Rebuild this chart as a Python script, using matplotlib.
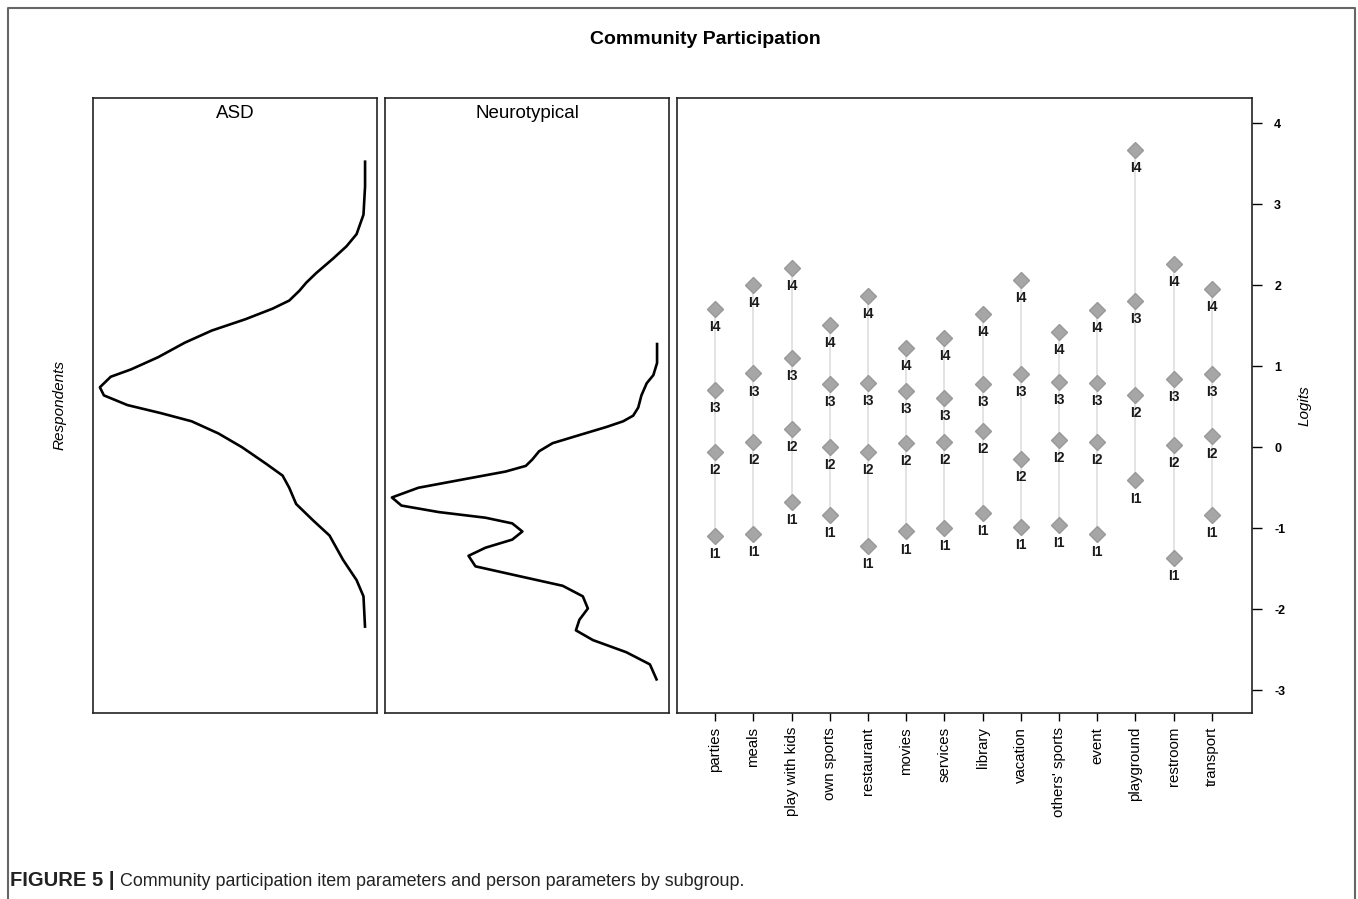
import numpy as np
import matplotlib.pyplot as plt

plt.rcParams['font.family'] = ['Liberation Sans', 'DejaVu Sans']
plt.rcParams['axes.unicode_minus'] = False

# item thresholds (logits)
items = ["parties", "meals", "play with kids", "own sports", "restaurant", "movies",
         "services", "library", "vacation", "others' sports", "event", "playground",
         "restroom", "transport"]
thr1 = [-1.09, -1.07, -0.67, -0.84, -1.22, -1.04, -1.00, -0.81, -0.98, -0.96, -1.07, -0.41, -1.37, -0.84]
thr2 = [-0.06, 0.07, 0.23, 0.00, -0.06, 0.05, 0.07, 0.20, -0.15, 0.09, 0.07, 0.65, 0.03, 0.14]
thr3 = [0.71, 0.91, 1.10, 0.78, 0.79, 0.70, 0.61, 0.78, 0.90, 0.81, 0.79, 1.80, 0.84, 0.90]
thr4 = [1.71, 2.00, 2.21, 1.51, 1.87, 1.23, 1.35, 1.65, 2.06, 1.42, 1.69, 3.67, 2.26, 1.95]
thr_names = ["I1", "I2", "I3", "I4"]

# person parameter densities (relative density, logit)
asd_logit = [3.54, 3.22, 2.87, 2.63, 2.48, 2.33, 2.15, 2.03, 1.93, 1.81, 1.71, 1.58, 1.44, 1.29,
             1.11, 0.96, 0.87, 0.74, 0.64, 0.52, 0.42, 0.32, 0.17, 0.00, -0.20, -0.35, -0.50,
             -0.70, -0.90, -1.09, -1.39, -1.64, -1.84, -2.23]
asd_dens = [0.0, 0.0, 0.006, 0.032, 0.07, 0.12, 0.184, 0.222, 0.248, 0.286, 0.349, 0.451, 0.578,
            0.68, 0.781, 0.883, 0.959, 1.0, 0.985, 0.896, 0.769, 0.654, 0.553, 0.464, 0.375,
            0.311, 0.286, 0.26, 0.197, 0.134, 0.083, 0.032, 0.006, 0.0]
nt_logit = [1.29, 1.04, 0.89, 0.79, 0.64, 0.49, 0.39, 0.32, 0.25, 0.15, 0.05, -0.05, -0.15,
            -0.23, -0.30, -0.40, -0.50, -0.62, -0.72, -0.80, -0.87, -0.94, -1.04, -1.14, -1.24,
            -1.34, -1.47, -1.59, -1.71, -1.84, -1.99, -2.13, -2.26, -2.38, -2.53, -2.68, -2.88]
nt_dens = [0.0, 0.0, 0.014, 0.039, 0.059, 0.071, 0.09, 0.128, 0.191, 0.293, 0.394, 0.445, 0.47,
           0.495, 0.571, 0.736, 0.9, 1.0, 0.964, 0.824, 0.647, 0.546, 0.508, 0.546, 0.647,
           0.711, 0.685, 0.521, 0.356, 0.28, 0.261, 0.293, 0.306, 0.242, 0.116, 0.027, 0.0]

W, H = 1358, 899
fig = plt.figure(figsize=(W / 100, H / 100), dpi=100)

def rect(x0, x1, y0=98, y1=713):
    return [x0 / W, 1 - y1 / H, (x1 - x0) / W, (y1 - y0) / H]

ylim = (-3.28, 4.31)
ax1 = fig.add_axes(rect(93, 377))
ax2 = fig.add_axes(rect(385, 669))
ax3 = fig.add_axes(rect(677, 1252))

for ax, dens, lg, name in [(ax1, asd_dens, asd_logit, "ASD"), (ax2, nt_dens, nt_logit, "Neurotypical")]:
    ax.plot(dens, lg, color='black', lw=1.9, solid_joinstyle='round', solid_capstyle='butt')
    ax.set_xlim(1.026, -0.045)
    ax.set_ylim(*ylim)
    ax.set_xticks([])
    ax.set_yticks([])
    ax.text(0.5, 0.9756, name, transform=ax.transAxes, ha='center', va='center', fontsize=13.5)

# item map
x = np.arange(1, len(items) + 1)
thr = np.array([thr1, thr2, thr3, thr4])
for i in range(len(items)):
    ax3.plot([x[i], x[i]], [thr[:, i].min(), thr[:, i].max()], color='#dedede', lw=1.2, zorder=1)
for k in range(4):
    ax3.plot(x, thr[k], ls='none', marker='D', ms=8.5, color='#a6a6a6', mec='#999999', zorder=2)
    for i in range(len(items)):
        ax3.annotate(thr_names[k], (x[i], thr[k][i]), xytext=(0, -13), textcoords='offset points',
                     ha='center', va='center', fontsize=10, fontweight='bold', color='#1a1a1a')
ax3.set_xlim(0, 15.05)
ax3.set_ylim(*ylim)
ax3.set_xticks(x)
ax3.set_xticklabels(items, rotation=90, fontsize=10.8)
ax3.tick_params(axis='x', length=6, width=1, pad=4)
ax3.yaxis.tick_right()
ax3.set_yticks(range(-3, 5))
ax3.tick_params(axis='y', length=7, width=1, pad=9, labelsize=9)
for lab in ax3.get_yticklabels():
    lab.set_fontweight('bold')
ax3.yaxis.set_label_position('right')
ax3.set_ylabel('Logits', fontstyle='italic', fontsize=11)
ax3.yaxis.set_label_coords(1.08, 0.5)

for ax in (ax1, ax2, ax3):
    for s in ax.spines.values():
        s.set_linewidth(1.2)
        s.set_color('#222222')

fig.text(705 / W, 1 - 39 / H, 'Community Participation', ha='center', va='center',
         fontsize=14, fontweight='bold')
fig.text(60 / W, 1 - 405 / H, 'Respondents', rotation=90, ha='center', va='center',
         fontstyle='italic', fontsize=11)

# caption
t1 = fig.text(10 / W, 1 - 881 / H, 'FIGURE 5 |', ha='left', va='center', fontsize=14.5,
              fontweight='bold', color='#222222')
ax3.annotate('Community participation item parameters and person parameters by subgroup.',
             xy=(1, 0.5), xycoords=t1, xytext=(4, 0), textcoords='offset points',
             ha='left', va='center', fontsize=12.9, color='#222222', annotation_clip=False)

# outer frame (left, top, right)
fig.add_artist(plt.Line2D([8 / W, 8 / W, 1355 / W, 1355 / W], [0, 1 - 8 / H, 1 - 8 / H, 0],
                          transform=fig.transFigure, color='#666666', lw=1.5))

fig.savefig('out.png', dpi=100)
